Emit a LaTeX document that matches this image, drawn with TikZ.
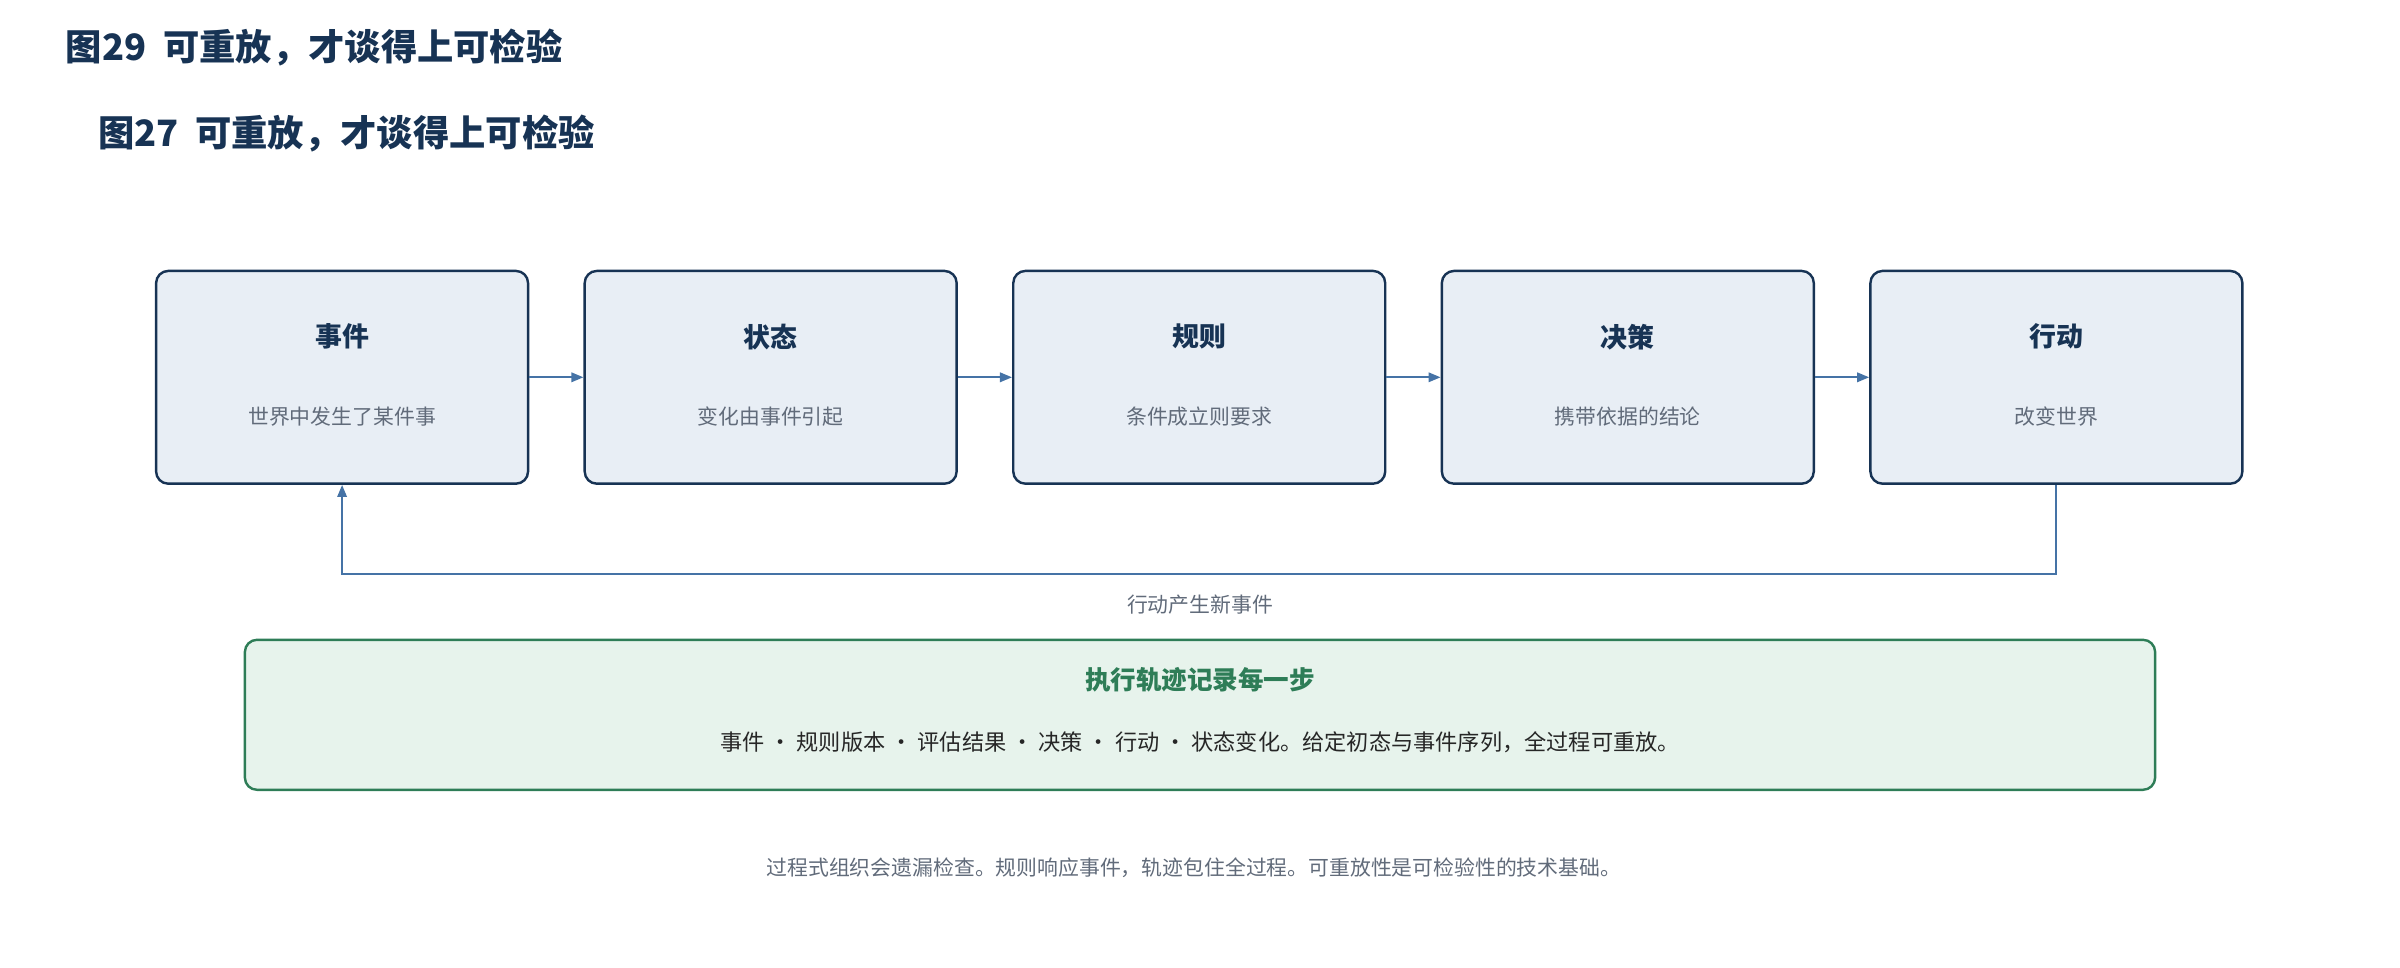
\documentclass[tikz,border=0pt]{standalone}
\usepackage{fontspec}
\setmainfont{Noto Sans CJK SC}
\usetikzlibrary{arrows.meta}
\newlength{\du}
\setlength{\du}{0.4mm}
\definecolor{navy}{rgb}{0.090000, 0.200000, 0.330000}
\definecolor{boxfill}{rgb}{0.910000, 0.933000, 0.960000}
\definecolor{arrowcolor}{rgb}{0.270000, 0.450000, 0.650000}
\definecolor{greyt}{rgb}{0.380000, 0.420000, 0.480000}
\definecolor{greenline}{rgb}{0.180000, 0.490000, 0.340000}
\definecolor{greenfill}{rgb}{0.906000, 0.953000, 0.925000}
\tikzset{
  stepbox/.style={draw=navy, fill=boxfill, line width=1.8pt, rounded corners=9pt, minimum width=243\du, minimum height=139\du},
  flow/.style={draw=arrowcolor, line width=1.6pt, -{Triangle[length=9pt,width=7pt]}},
}
\begin{document}
\begin{tikzpicture}[x=1\du, y=-1\du]
\useasboundingbox (0,0) rectangle (1568,632);
% titles
\node[anchor=west, text=navy, font=\bfseries\fontsize{27}{30}\selectfont] (t29) at (40,31) {图29\ \ 可重放，才谈得上可检验};
\node[anchor=west, text=navy, font=\bfseries\fontsize{27}{30}\selectfont] (t27) at (61,87) {图27\ \ 可重放，才谈得上可检验};
% steps
\foreach \n/\cx/\ttl/\sub in {e/223.5/事件/世界中发生了某件事, s/503.5/状态/变化由事件引起, r/783.5/规则/条件成立则要求, d/1063.5/决策/携带依据的结论, a/1343.5/行动/改变世界}{
  \node[stepbox] (\n) at (\cx,246.5) {};
  \node[text=navy, font=\bfseries\fontsize{20}{24}\selectfont] (\n t) at (\cx,220) {\ttl};
  \node[text=greyt, font=\fontsize{15.5}{18}\selectfont] (\n s) at (\cx,272) {\sub};
}
\draw[flow] (e.east) -- (s.west);
\draw[flow] (s.east) -- (r.west);
\draw[flow] (r.east) -- (d.west);
\draw[flow] (d.east) -- (a.west);
% feedback
\coordinate (fb) at (0,375);
\draw[flow] (a.south) -- (a.south |- fb) -- (e.south |- fb) -- (e.south);
\node[text=greyt, font=\fontsize{15.5}{18}\selectfont] (fbl) at (784,395) {行动产生新事件};
% trace
\node[draw=greenline, fill=greenfill, line width=1.8pt, rounded corners=9pt, minimum width=1248\du, minimum height=98\du] (trace) at (784,467) {};
\node[text=greenline, font=\bfseries\fontsize{19}{22}\selectfont] (tracet) at (784,444) {执行轨迹记录每一步};
\node[text=black!85, font=\fontsize{16.5}{20}\selectfont] (traces) at (784,485) {事件 · 规则版本 · 评估结果 · 决策 · 行动 · 状态变化。给定初态与事件序列，全过程可重放。};
\node[text=greyt, font=\fontsize{15.5}{18}\selectfont] (foot) at (780,567) {过程式组织会遗漏检查。规则响应事件，轨迹包住全过程。可重放性是可检验性的技术基础。};
\end{tikzpicture}
\end{document}
